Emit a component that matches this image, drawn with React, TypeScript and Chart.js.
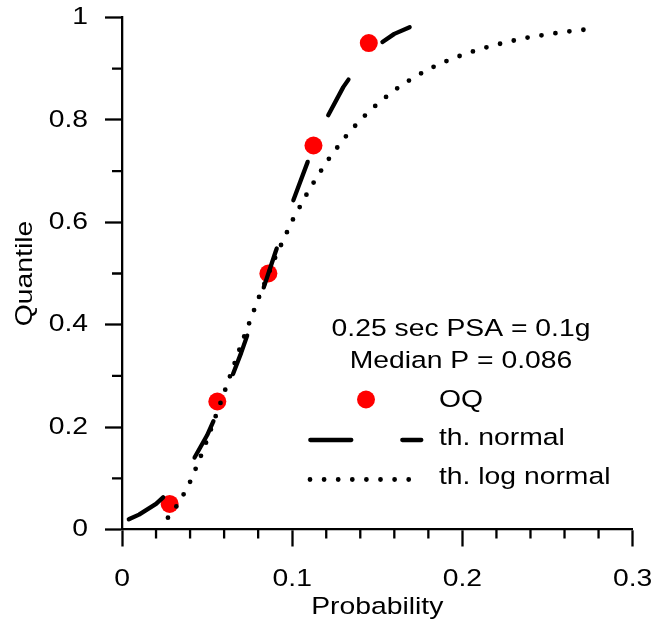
import React, { useEffect, useRef } from 'react';
import { Chart, registerables } from 'chart.js';

Chart.register(...registerables);

// ---- Data ----
const oqProb = [0.028, 0.056, 0.086, 0.1125, 0.145];
const oqQuantile = [0.05, 0.25, 0.5, 0.75, 0.95];

const normalProb = [0.004, 0.01, 0.02, 0.03, 0.04, 0.05, 0.06, 0.07, 0.08, 0.09, 0.1, 0.11, 0.12, 0.13, 0.14, 0.15, 0.16, 0.169];
const normalQuantile = [0.02, 0.029, 0.05, 0.081, 0.125, 0.184, 0.258, 0.345, 0.44, 0.54, 0.637, 0.726, 0.802, 0.864, 0.912, 0.945, 0.968, 0.981];

const logNormalProb = [0.027, 0.03, 0.035, 0.04, 0.045, 0.05, 0.06, 0.07, 0.08, 0.09, 0.1, 0.11, 0.12, 0.13, 0.14, 0.15, 0.16, 0.17, 0.18, 0.19, 0.2, 0.21, 0.22, 0.23, 0.24, 0.25, 0.26, 0.275];
const logNormalQuantile = [0.023, 0.035, 0.061, 0.093, 0.132, 0.175, 0.267, 0.361, 0.45, 0.531, 0.603, 0.664, 0.717, 0.762, 0.8, 0.831, 0.858, 0.88, 0.899, 0.914, 0.927, 0.938, 0.947, 0.955, 0.962, 0.967, 0.972, 0.9775];

const xTickLabels = ['0', '0.1', '0.2', '0.3'];
const yTickLabels = ['0', '0.2', '0.4', '0.6', '0.8', '1'];
const xMinorTicks = [0.02, 0.04, 0.06, 0.08, 0.12, 0.14, 0.16, 0.18, 0.22, 0.24, 0.26, 0.28];
const yMinorTicks = [0.1, 0.3, 0.5, 0.7, 0.9];

const annotationLines = ['0.25 sec PSA = 0.1g', 'Median P = 0.086'];
const legendLabels = ['OQ', 'th. normal', 'th. log normal'];
const xTitle = 'Probability';
const yTitle = 'Quantile';

// ---- Styles ----
const FONT_FAMILY = '"Liberation Sans", Arial, Helvetica, sans-serif';
const FONT_SIZE = 24.5;
const TEXT_STRETCH = 1.155; // the reference's type is horizontally widened
const RED = '#ff0000';
const AXIS_W = 2.3;
const NORMAL_W = 4.3;
const NORMAL_DASH = [41, 51];
const LOG_W = 4.8;
const LOG_DASH = [0, 14.1];

const toPoints = (xs: number[], ys: number[]) => xs.map((x, i) => ({ x, y: ys[i] }));

// Widen every text draw horizontally around its anchor point.
const widenText = (ctx: any) => {
  if (ctx.__widened) return;
  const orig = ctx.fillText;
  ctx.fillText = function (text: string, x: number, y: number, maxWidth?: number) {
    this.save();
    this.translate(x, y);
    this.scale(TEXT_STRETCH, 1);
    if (maxWidth === undefined) orig.call(this, text, 0, 0);
    else orig.call(this, text, 0, 0, maxWidth / TEXT_STRETCH);
    this.restore();
  };
  ctx.__widened = true;
};

const decorPlugin = {
  id: 'decor',
  beforeDraw(chart: any) {
    widenText(chart.ctx);
  },
  afterDraw(chart: any) {
    const ctx = chart.ctx;
    const xs = chart.scales.x;
    const ys = chart.scales.y;
    const { left, bottom } = chart.chartArea;
    ctx.save();
    // minor ticks
    ctx.strokeStyle = '#000';
    ctx.lineWidth = AXIS_W;
    ctx.lineCap = 'butt';
    ctx.beginPath();
    xMinorTicks.forEach((v) => {
      const px = xs.getPixelForValue(v);
      ctx.moveTo(px, bottom);
      ctx.lineTo(px, bottom + 9);
    });
    yMinorTicks.forEach((v) => {
      const py = ys.getPixelForValue(v);
      ctx.moveTo(left - 10, py);
      ctx.lineTo(left, py);
    });
    ctx.stroke();

    // annotation text
    ctx.font = `${FONT_SIZE}px ${FONT_FAMILY}`;
    ctx.fillStyle = '#000';
    ctx.textBaseline = 'alphabetic';
    ctx.textAlign = 'center';
    ctx.fillText(annotationLines[0], 461, 336);
    ctx.fillText(annotationLines[1], 461, 368);

    ctx.textAlign = 'left';
    ctx.fillText(legendLabels[0], 439, 407);
    ctx.fillText(legendLabels[1], 439, 445);
    ctx.fillText(legendLabels[2], 439, 484);

    // legend symbols
    ctx.fillStyle = RED;
    ctx.beginPath();
    ctx.arc(366, 399.5, 9, 0, Math.PI * 2);
    ctx.fill();

    ctx.strokeStyle = '#000';
    ctx.lineCap = 'round';
    ctx.lineWidth = NORMAL_W;
    ctx.setLineDash(NORMAL_DASH);
    ctx.beginPath();
    ctx.moveTo(310.3, 440);
    ctx.lineTo(421.3, 440);
    ctx.stroke();

    ctx.lineWidth = LOG_W;
    ctx.setLineDash(LOG_DASH);
    ctx.beginPath();
    ctx.moveTo(310, 479.5);
    ctx.lineTo(408.8, 479.5);
    ctx.stroke();
    ctx.restore();
  },
};

export default function App() {
  const ref = useRef<HTMLCanvasElement | null>(null);

  useEffect(() => {
    if (!ref.current) return;
    const font = { family: FONT_FAMILY, size: FONT_SIZE, lineHeight: 1.2 };
    const chart = new Chart(ref.current, {
      type: 'scatter',
      data: {
        datasets: [
          {
            label: legendLabels[1],
            data: toPoints(normalProb, normalQuantile),
            showLine: true,
            borderColor: '#000',
            borderWidth: NORMAL_W,
            borderDash: NORMAL_DASH,
            borderCapStyle: 'round',
            borderJoinStyle: 'round',
            pointRadius: 0,
            pointHoverRadius: 0,
            tension: 0,
            order: 1,
          } as any,
          {
            label: legendLabels[2],
            data: toPoints(logNormalProb, logNormalQuantile),
            showLine: true,
            borderColor: '#000',
            borderWidth: LOG_W,
            borderDash: LOG_DASH,
            borderCapStyle: 'round',
            borderJoinStyle: 'round',
            pointRadius: 0,
            pointHoverRadius: 0,
            tension: 0,
            order: 2,
          } as any,
          {
            label: legendLabels[0],
            data: toPoints(oqProb, oqQuantile),
            showLine: false,
            backgroundColor: RED,
            borderWidth: 0,
            pointRadius: 9,
            pointHoverRadius: 9,
            order: 3,
          } as any,
        ],
      },
      options: {
        responsive: false,
        devicePixelRatio: 1,
        animation: false,
        events: [],
        layout: { padding: { top: 17.5, right: 20.4, left: 0, bottom: 0 } },
        plugins: {
          legend: { display: false },
          tooltip: { enabled: false },
        },
        scales: {
          x: {
            type: 'linear',
            min: 0,
            max: 0.3,
            afterFit: (scale: any) => {
              scale.height = 97.5;
              scale.paddingLeft = 0;
              scale.paddingRight = 0;
            },
            border: { display: true, color: '#000', width: AXIS_W },
            grid: {
              display: true,
              drawOnChartArea: false,
              drawTicks: true,
              tickLength: 17,
              tickColor: '#000',
              tickWidth: AXIS_W,
            },
            ticks: {
              stepSize: 0.1,
              color: '#000',
              font,
              padding: 18,
              maxRotation: 0,
              callback: (v: any) => xTickLabels[Math.round(Number(v) * 10)] ?? '',
            },
            title: {
              display: true,
              text: xTitle,
              color: '#000',
              font,
              padding: { top: 0, bottom: 5.3 },
            },
          },
          y: {
            type: 'linear',
            min: 0,
            max: 1,
            afterFit: (scale: any) => {
              scale.width = 122;
              scale.paddingTop = 0;
              scale.paddingBottom = 0;
            },
            border: { display: true, color: '#000', width: AXIS_W },
            grid: {
              display: true,
              drawOnChartArea: false,
              drawTicks: true,
              tickLength: 17,
              tickColor: '#000',
              tickWidth: AXIS_W,
            },
            ticks: {
              stepSize: 0.2,
              color: '#000',
              font,
              padding: 17,
              callback: (v: any) => yTickLabels[Math.round(Number(v) * 5)] ?? '',
            },
            title: {
              display: true,
              text: yTitle,
              color: '#000',
              font,
              padding: { top: 10.3, bottom: 0 },
            },
          },
        },
      },
      plugins: [decorPlugin],
    } as any);
    return () => chart.destroy();
  }, []);

  return (
    <div style={{ position: 'fixed', left: 0, top: 0, width: 653, height: 627, background: '#fff' }}>
      <canvas ref={ref} width={653} height={627} style={{ display: 'block', width: 653, height: 627 }} />
    </div>
  );
}
